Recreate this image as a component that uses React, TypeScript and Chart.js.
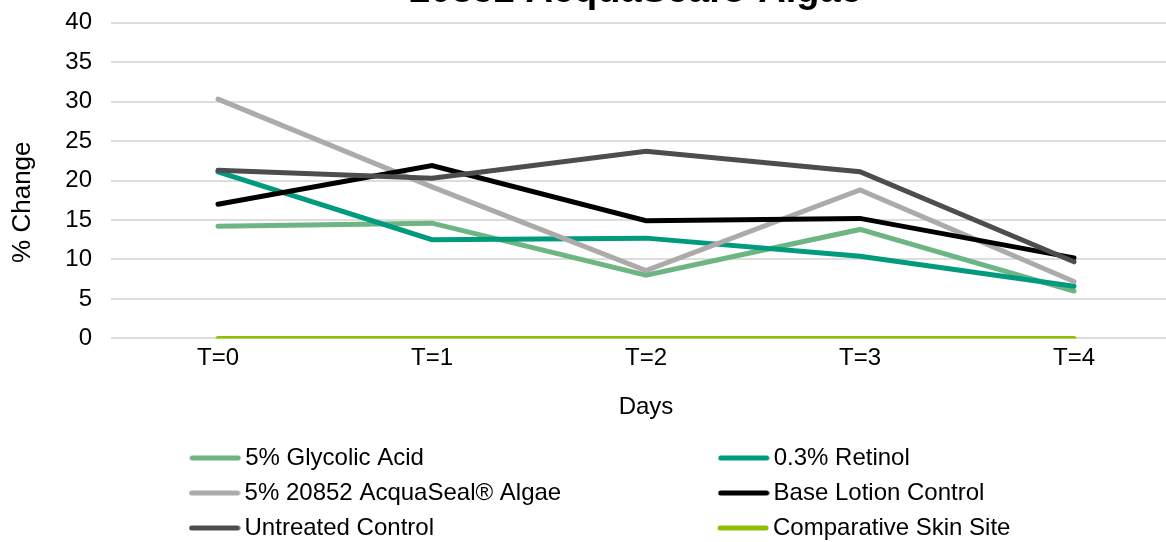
import React, { useEffect, useRef } from "react";
import { Chart, registerables } from "chart.js";
Chart.register(...registerables);

const FONT = "'Liberation Sans', Arial, sans-serif";

const categories = ["T=0", "T=1", "T=2", "T=3", "T=4"];
const seriesNames = [
  "5% Glycolic Acid",
  "0.3% Retinol",
  "5% 20852 AcquaSeal® Algae",
  "Base Lotion Control",
  "Untreated Control",
  "Comparative Skin Site",
];
const glycolicAcid = [14.2, 14.6, 8.0, 13.8, 6.0];
const retinol = [21.1, 12.5, 12.7, 10.4, 6.6];
const acquaSeal = [30.3, 19.2, 8.6, 18.8, 7.2];
const baseLotion = [17.0, 21.9, 14.9, 15.2, 10.2];
const untreated = [21.3, 20.3, 23.7, 21.1, 9.7];
const comparative = [0, 0, 0, 0, 0];
const seriesColors = ["#6DB583", "#009A7C", "#ADAAAA", "#000000", "#4D4D4D", "#8DC000"];
const yMin = 0;
const yMax = 40;
const yStep = 5;
const titleText = "20852 AcquaSeal® Algae";
const xTitle = "Days";
const yTitle = "% Change";

function makeSample(color: string) {
  const c = document.createElement("canvas");
  c.width = 52;
  c.height = 6;
  const g = c.getContext("2d")!;
  g.strokeStyle = color;
  g.lineWidth = 5;
  g.lineCap = "round";
  g.beginPath();
  g.moveTo(3, 3);
  g.lineTo(49, 3);
  g.stroke();
  return c;
}

export default function App() {
  const ref = useRef<HTMLCanvasElement>(null);
  useEffect(() => {
    const canvas = ref.current!;
    const values = [glycolicAcid, retinol, acquaSeal, baseLotion, untreated, comparative];
    const legendFontSize = 24;
    const legendPadding = 11;
    const boxW = 36;
    const samples = seriesColors.map(makeSample);
    const chart = new Chart(canvas, {
      type: "line",
      data: {
        labels: categories,
        datasets: seriesNames.map((name, i) => ({
          label: name,
          data: values[i],
          borderColor: seriesColors[i],
          backgroundColor: seriesColors[i],
          borderWidth: 5,
          pointRadius: 0,
          pointHoverRadius: 0,
          tension: 0,
          fill: false,
          borderCapStyle: "round",
          borderJoinStyle: "miter",
          order: -i,
        })),
      },
      options: {
        responsive: false,
        animation: false,
        devicePixelRatio: 1,
        layout: { padding: { left: 26, right: 25, top: 0, bottom: 0 } },
        plugins: {
          tooltip: { enabled: false },
          title: {
            display: true,
            text: titleText + "  ",
            fullSize: false,
            color: "#000000",
            font: { family: FONT, size: 38, weight: "bold" },
            padding: { top: 5, bottom: 8 },
          },
          legend: {
            display: true,
            position: "bottom",
            align: "center",
            labels: {
              usePointStyle: true,
              pointStyleWidth: boxW,
              padding: legendPadding,
              color: "#000000",
              font: { family: FONT, size: legendFontSize },
              generateLabels: (ch: any) => {
                const ctx = ch.ctx;
                ctx.save();
                ctx.font = `${legendFontSize}px ${FONT}`;
                const w = (t: string) => ctx.measureText(t).width;
                const targetA = 726 - 196 - (boxW + legendFontSize / 2) - legendPadding;
                const targetB = Math.max(...[1, 3, 5].map((i) => w(seriesNames[i])));
                const pad = (s: string, target: number) => {
                  let t = s;
                  while (w(t + " ") <= target) t += " ";
                  while (w(t + "\u200A") <= target) t += "\u200A";
                  return t;
                };
                const items = ch.data.datasets.map((ds: any, i: number) => ({
                  text: pad(ds.label, i % 2 === 0 ? targetA : targetB),
                  fillStyle: ds.borderColor,
                  strokeStyle: ds.borderColor,
                  lineWidth: 5,
                  pointStyle: samples[i],
                  hidden: false,
                  datasetIndex: i,
                  fontColor: "#000000",
                }));
                ctx.restore();
                return items;
              },
            },
          },
        },
        scales: {
          x: {
            type: "category",
            offset: true,
            grid: { display: false, drawTicks: false },
            border: { display: false },
            ticks: { color: "#000000", padding: 5.6, font: { family: FONT, size: 24 } },
            title: {
              display: true,
              text: xTitle,
              color: "#000000",
              font: { family: FONT, size: 24 },
              padding: { top: 14.2, bottom: 13.6 },
            },
          },
          y: {
            min: yMin,
            max: yMax,
            grid: { color: "#DDDDDD", lineWidth: 2, drawTicks: false },
            border: { display: false },
            ticks: { stepSize: yStep, color: "#000000", padding: 19, font: { family: FONT, size: 24 } },
            title: {
              display: true,
              text: yTitle + "      ",
              color: "#000000",
              font: { family: FONT, size: 26 },
              padding: { top: -19, bottom: 8.1 },
            },
          },
        },
      },
    } as any);
    return () => chart.destroy();
  }, []);

  return (
    <div
      style={{
        position: "fixed",
        left: 0,
        top: 0,
        width: 1166,
        height: 542,
        overflow: "hidden",
        background: "#ffffff",
      }}
    >
      <canvas
        ref={ref}
        width={1206}
        height={586}
        style={{ position: "absolute", left: 0, top: -36, width: 1206, height: 586 }}
      />
    </div>
  );
}
